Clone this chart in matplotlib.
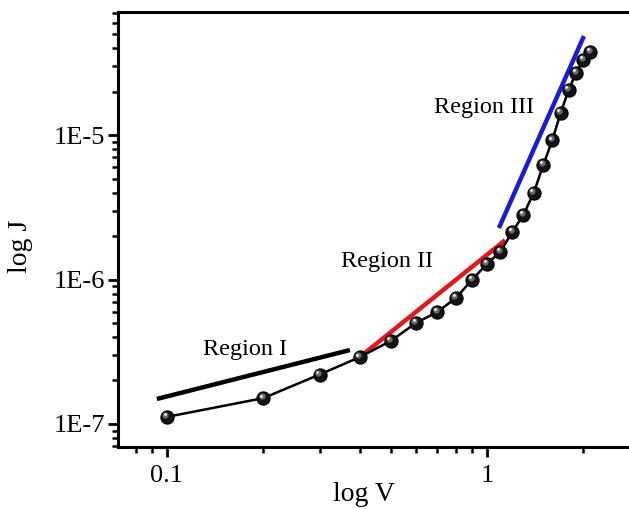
import numpy as np
import matplotlib.pyplot as plt
from matplotlib import transforms

plt.rcParams['font.family'] = ['Liberation Serif', 'DejaVu Serif']

# medidas J-V
V = [0.1, 0.2, 0.3, 0.4, 0.5, 0.6, 0.7, 0.8, 0.9, 1.0, 1.1,
     1.2, 1.3, 1.4, 1.5, 1.6, 1.7, 1.8, 1.9, 2.0, 2.1]
J = [1.12e-7, 1.51e-7, 2.2e-7, 2.9e-7, 3.75e-7, 5.0e-7, 5.96e-7,
     7.45e-7, 1.0e-6, 1.28e-6, 1.55e-6, 2.13e-6, 2.8e-6, 3.97e-6,
     6.2e-6, 9.2e-6, 1.42e-5, 2.05e-5, 2.69e-5, 3.3e-5, 3.75e-5]

# rectas de ajuste por region
V1 = [0.093, 0.373]
J1 = [1.49e-7, 3.25e-7]
V2 = [0.4, 1.14]
J2 = [2.9e-7, 1.87e-6]
V3 = [1.09, 2.01]
J3 = [2.27e-6, 4.84e-5]

yticks = [1e-7, 1e-6, 1e-5]
ylabels = ['1E-7', '1E-6', '1E-5']
xticks = [0.1, 1]
xlabels = ['0.1', '1']

fig = plt.figure(figsize=(6.29, 5.09), dpi=100)
ax = fig.add_axes([0.1876, 0.1218, 0.8124, 0.8546])
ax.set_xscale('log')
ax.set_yscale('log')

ax.plot(V1, J1, color='black', lw=3.2, solid_capstyle='butt', zorder=2)
ax.plot(V2, J2, color='#e8141b', lw=3.2, solid_capstyle='butt', zorder=2)
ax.plot(V3, J3, color='#1a1adc', lw=3.2, solid_capstyle='butt', zorder=2)

# puntos tipo esfera: cuerpo oscuro + brillo desplazado
ax.plot(V, J, '-', color='black', lw=1.8, zorder=3)
ax.plot(V, J, 'o', color='#141414', ms=9.5, mec='black', mew=0.8, zorder=4)
brillo1 = transforms.offset_copy(ax.transData, fig=fig, x=-1.5, y=1.8, units='dots')
brillo2 = transforms.offset_copy(ax.transData, fig=fig, x=-2.2, y=2.6, units='dots')
ax.plot(V, J, 'o', color='#6a6a6a', ms=4.5, mew=0, transform=brillo1, zorder=5)
ax.plot(V, J, 'o', color='#f2f2f2', ms=2.0, mew=0, transform=brillo2, zorder=6)

ax.text(0.175, 3.3e-7, 'Region I', fontsize=17.5, ha='center', va='center')
ax.text(0.487, 1.33e-6, 'Region II', fontsize=17.5, ha='center', va='center')
ax.text(0.98, 1.56e-5, 'Region III', fontsize=17.5, ha='center', va='center')

ax.set_xlim(0.0703, 2.78)
ax.set_ylim(6.93e-8, 7.1e-5)
ax.set_xticks(xticks)
ax.set_xticklabels(xlabels)
ax.set_yticks(yticks)
ax.set_yticklabels(ylabels)

ax.tick_params(which='major', direction='out', length=7, width=2, labelsize=19,
               top=False, right=False)
ax.tick_params(axis='x', which='major', pad=6)
ax.tick_params(axis='y', which='major', pad=2)
ax.tick_params(which='minor', direction='out', length=4, width=1.8,
               top=False, right=False)
for s in ['left', 'bottom', 'top']:
    ax.spines[s].set_linewidth(2.2)
ax.spines['right'].set_visible(False)

ax.set_xlabel('log V', fontsize=20)
ax.xaxis.set_label_coords(0.481, -0.08)
ax.set_ylabel('log J', fontsize=20)
ax.yaxis.set_label_coords(-0.166, 0.462)

fig.savefig('out.png', dpi=100)
